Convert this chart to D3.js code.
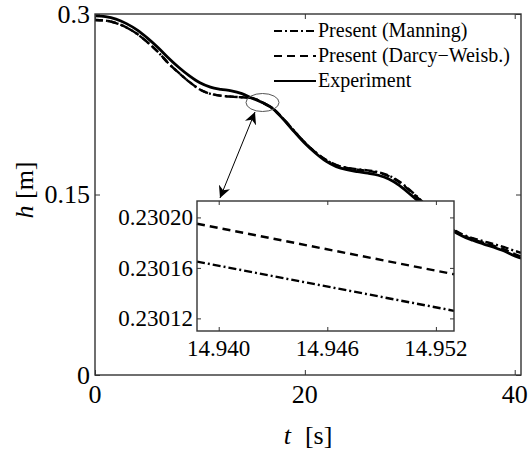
<!DOCTYPE html>
<html>
<head>
<meta charset="utf-8">
<script src="https://cdn.jsdelivr.net/npm/d3@7"></script>
<style>
    body { margin: 0; background: #fff; }
</style>
</head>
<body>
<svg id="chart" width="528" height="452"></svg>
<script>
// main plot data
var time = [0, 1, 2, 3, 4, 5, 6, 7, 8, 9, 10, 11, 12, 13, 14, 15, 16, 17, 18, 19, 20,
            21, 22, 23, 24, 25, 26, 27, 28, 29, 30, 31, 32, 33, 34, 35, 36, 37, 38, 39, 40, 40.6];

var h_experiment = [0.2984, 0.2978, 0.2958, 0.2920, 0.2868, 0.2800, 0.2722, 0.2635, 0.2555, 0.2485, 0.2428,
                    0.2392, 0.2374, 0.2362, 0.2338, 0.2300, 0.2262, 0.2210, 0.2120, 0.2020, 0.1925,
                    0.1845, 0.1778, 0.1732, 0.1706, 0.1690, 0.1677, 0.1660, 0.1628, 0.1575, 0.1505,
                    0.1430, 0.1350, 0.1275, 0.1205, 0.1155, 0.1120, 0.1090, 0.1062, 0.1030, 0.0990, 0.0970];

var h_darcy = [0.2950, 0.2945, 0.2925, 0.2888, 0.2835, 0.2765, 0.2685, 0.2590, 0.2510, 0.2435, 0.2372,
               0.2337, 0.2321, 0.2313, 0.2308, 0.2301, 0.2262, 0.2212, 0.2124, 0.2026, 0.1932,
               0.1852, 0.1788, 0.1745, 0.1720, 0.1706, 0.1696, 0.1681, 0.1652, 0.1602, 0.1532,
               0.1452, 0.1366, 0.1286, 0.1214, 0.1163, 0.1128, 0.1100, 0.1074, 0.1044, 0.1005, 0.0985];

var h_manning = [0.2950, 0.2945, 0.2925, 0.2888, 0.2835, 0.2765, 0.2685, 0.2590, 0.2510, 0.2435, 0.2372,
                 0.2337, 0.2321, 0.2313, 0.2308, 0.2301, 0.2262, 0.2212, 0.2124, 0.2026, 0.1932,
                 0.1852, 0.1788, 0.1745, 0.1722, 0.1710, 0.1700, 0.1686, 0.1658, 0.1608, 0.1538,
                 0.1458, 0.1372, 0.1292, 0.1220, 0.1170, 0.1137, 0.1112, 0.1088, 0.1062, 0.1032, 0.1015];

var x_ticks = [0, 20, 40];
var y_ticks = [0, 0.15, 0.3];

// inset (zoom near t = 14.94)
var inset_time = [14.9388, 14.9530];
var inset_darcy = [0.230195, 0.230155];
var inset_manning = [0.230165, 0.230126];
var inset_x_ticks = [14.940, 14.946, 14.952];
var inset_y_ticks = [0.23012, 0.23016, 0.23020];

var series = [
    {name: 'Present (Manning)', values: h_manning, dash: '8,3,2,3', width: 2.4},
    {name: 'Present (Darcy\u2212Weisb.)', values: h_darcy, dash: '8,5', width: 2.4},
    {name: 'Experiment', values: h_experiment, dash: null, width: 2.8}
];

var serif = 'Liberation Serif, DejaVu Serif, serif';
var svg = d3.select('#chart');
var axis_color = '#333';

var x = d3.scaleLinear().domain([0, 40.6]).range([95, 521]);
var y = d3.scaleLinear().domain([0, 0.3]).range([375, 14]);

// box with inward ticks on all four sides
var drawFrame = function(g, xs, ys, xt, yt, len, fmtX, fmtY, fontSize, xLabelY, yLabelX) {
    var x0 = xs.range()[0], x1 = xs.range()[1];
    var y0 = ys.range()[0], y1 = ys.range()[1];
    g.append('g')
        .attr('transform', 'translate(0,' + y0 + ')')
        .call(d3.axisBottom(xs).tickValues(xt).tickSize(-len).tickFormat(''))
        .call(function(a) { a.select('.domain').remove(); });
    g.append('g')
        .attr('transform', 'translate(0,' + y1 + ')')
        .call(d3.axisTop(xs).tickValues(xt).tickSize(-len).tickFormat(''))
        .call(function(a) { a.select('.domain').remove(); });
    g.append('g')
        .attr('transform', 'translate(' + x0 + ',0)')
        .call(d3.axisLeft(ys).tickValues(yt).tickSize(-len).tickFormat(''))
        .call(function(a) { a.select('.domain').remove(); });
    g.append('g')
        .attr('transform', 'translate(' + x1 + ',0)')
        .call(d3.axisRight(ys).tickValues(yt).tickSize(-len).tickFormat(''))
        .call(function(a) { a.select('.domain').remove(); });
    g.selectAll('.tick line').attr('stroke', axis_color).attr('stroke-width', 1);

    g.append('rect')
        .attr('x', x0).attr('y', y1)
        .attr('width', x1 - x0).attr('height', y0 - y1)
        .attr('fill', 'none')
        .attr('stroke', axis_color)
        .attr('stroke-width', 1.4);

    g.selectAll('text.xt')
        .data(xt).enter()
        .append('text')
        .attr('class', 'xt')
        .attr('x', function(d) { return xs(d); })
        .attr('y', xLabelY)
        .attr('text-anchor', 'middle')
        .style('font-size', fontSize + 'px')
        .text(fmtX);
    g.selectAll('text.yt')
        .data(yt).enter()
        .append('text')
        .attr('class', 'yt')
        .attr('x', yLabelX)
        .attr('y', function(d) { return ys(d) + fontSize * 0.34; })
        .attr('text-anchor', 'end')
        .style('font-size', fontSize + 'px')
        .text(fmtY);
};

var line = d3.line()
    .x(function(d) { return x(d[0]); })
    .y(function(d) { return y(d[1]); })
    .curve(d3.curveMonotoneX);

svg.append('clipPath').attr('id', 'main-clip')
    .append('rect')
    .attr('x', 95).attr('y', 14)
    .attr('width', 426).attr('height', 361);

var curves = svg.append('g').attr('clip-path', 'url(#main-clip)');
series.forEach(function(s) {
    curves.append('path')
        .datum(time.map(function(t, i) { return [t, s.values[i]]; }))
        .attr('d', line)
        .attr('fill', 'none')
        .attr('stroke', '#000')
        .attr('stroke-width', s.width)
        .attr('stroke-dasharray', s.dash);
});

drawFrame(svg.append('g'), x, y, x_ticks, y_ticks, 5,
    function(d) { return d; },
    function(d) { return d; },
    26, 403, 90);

// axis labels
svg.append('text')
    .attr('transform', 'translate(33,190) rotate(-90)')
    .attr('text-anchor', 'middle')
    .style('font-size', '26px')
    .call(function(t) {
        t.append('tspan').style('font-style', 'italic').text('h');
        t.append('tspan').text(' [m]');
    });

svg.append('text')
    .attr('x', 308)
    .attr('y', 444)
    .attr('text-anchor', 'middle')
    .style('font-size', '26px')
    .call(function(t) {
        t.append('tspan').style('font-style', 'italic').text('t');
        t.append('tspan').attr('dx', 14).text('[s]');
    });

// legend
var legend = svg.append('g');
series.forEach(function(s, i) {
    var by = 37 + i * 25;
    legend.append('line')
        .attr('x1', 274).attr('x2', 316)
        .attr('y1', by - 6).attr('y2', by - 6)
        .attr('stroke', '#000')
        .attr('stroke-width', 2)
        .attr('stroke-dasharray', s.dash);
    legend.append('text')
        .attr('x', 318)
        .attr('y', by)
        .style('font-size', '20px')
        .text(s.name);
});

// ellipse marking the zoomed spot and the double arrow
svg.append('ellipse')
    .attr('cx', 262.5).attr('cy', 102.5)
    .attr('rx', 16.5).attr('ry', 9)
    .attr('fill', 'none')
    .attr('stroke', '#555')
    .attr('stroke-width', 1);

var defs = svg.append('defs');
defs.append('marker')
    .attr('id', 'head')
    .attr('viewBox', '0 0 10 10')
    .attr('refX', 10).attr('refY', 5)
    .attr('markerWidth', 12).attr('markerHeight', 12)
    .attr('markerUnits', 'userSpaceOnUse')
    .attr('orient', 'auto-start-reverse')
    .append('path')
    .attr('d', 'M0,0 L10,5 L0,10 L3,5 Z')
    .attr('fill', '#000');

svg.append('line')
    .attr('x1', 220).attr('y1', 198)
    .attr('x2', 255).attr('y2', 112)
    .attr('stroke', '#000')
    .attr('stroke-width', 1)
    .attr('marker-start', 'url(#head)')
    .attr('marker-end', 'url(#head)');

// inset
var ix = d3.scaleLinear().domain([inset_time[0], inset_time[1]]).range([197, 454]);
var iy = d3.scaleLinear().domain([0.23011, 0.230213]).range([331, 201]);

var inset = svg.append('g');
inset.append('rect')
    .attr('x', 197).attr('y', 201)
    .attr('width', 257).attr('height', 130)
    .attr('fill', '#fff');

var inset_line = d3.line()
    .x(function(d) { return ix(d[0]); })
    .y(function(d) { return iy(d[1]); });

[{values: inset_darcy, dash: '8,5'}, {values: inset_manning, dash: '8,3,2,3'}].forEach(function(s) {
    inset.append('path')
        .datum(inset_time.map(function(t, i) { return [t, s.values[i]]; }))
        .attr('d', inset_line)
        .attr('fill', 'none')
        .attr('stroke', '#000')
        .attr('stroke-width', 2.4)
        .attr('stroke-dasharray', s.dash);
});

drawFrame(inset, ix, iy, inset_x_ticks, inset_y_ticks, 4,
    d3.format('.3f'),
    d3.format('.5f'),
    23, 356, 193);

// one family for every label, set last so nothing overrides it
svg.selectAll('text').attr('font-family', null).style('font-family', serif);
</script>
</body>
</html>
